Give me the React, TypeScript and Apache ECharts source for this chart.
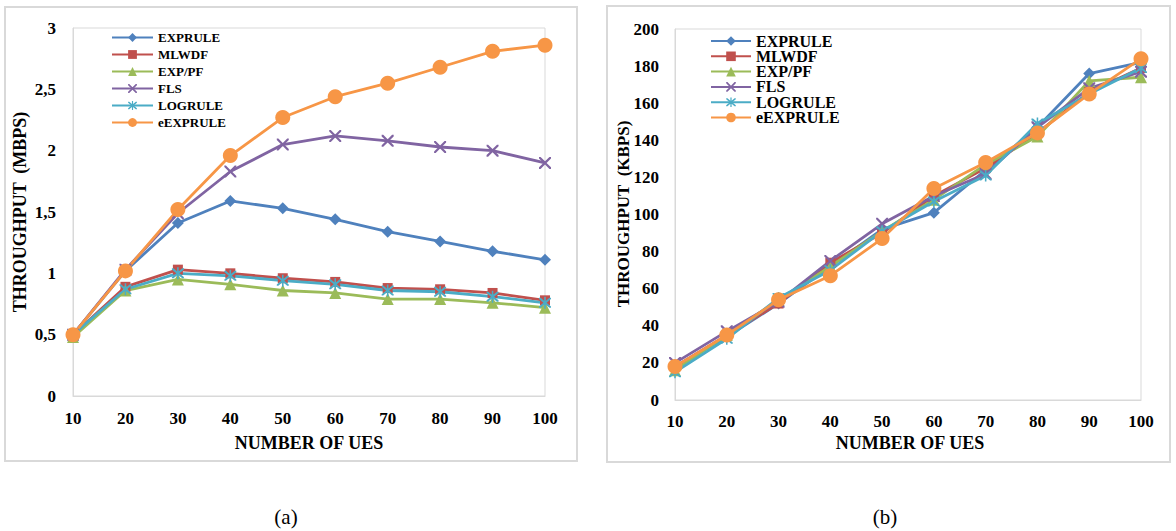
import React, { useEffect, useRef } from "react";
import * as echarts from "echarts";

const categories = ["10", "20", "30", "40", "50", "60", "70", "80", "90", "100"];
const seriesNames = ["EXPRULE", "MLWDF", "EXP/PF", "FLS", "LOGRULE", "eEXPRULE"];

// (a) throughput in Mbps
const aEXPRULE = [0.5, 1.02, 1.41, 1.59, 1.53, 1.44, 1.34, 1.26, 1.18, 1.11];
const aMLWDF = [0.5, 0.89, 1.03, 1.0, 0.96, 0.93, 0.88, 0.87, 0.84, 0.78];
const aEXPPF = [0.48, 0.86, 0.95, 0.91, 0.86, 0.84, 0.79, 0.79, 0.76, 0.72];
const aFLS = [0.5, 1.03, 1.49, 1.83, 2.05, 2.12, 2.08, 2.03, 2.0, 1.9];
const aLOGRULE = [0.5, 0.87, 1.0, 0.98, 0.94, 0.91, 0.86, 0.85, 0.81, 0.76];
const aEEXPRULE = [0.5, 1.02, 1.52, 1.96, 2.27, 2.44, 2.55, 2.68, 2.81, 2.86];

// (b) throughput in kbps
const bEXPRULE = [18, 34, 52, 72, 92, 101, 124, 147, 176, 182];
const bMLWDF = [18, 35, 52, 74, 90, 110, 125, 144, 166, 179];
const bEXPPF = [16, 35, 54, 72, 91, 108, 127, 142, 172, 174];
const bFLS = [20, 37, 53, 75, 95, 110, 122, 147, 168, 177];
const bLOGRULE = [15, 33, 55, 70, 91, 107, 121, 149, 165, 179];
const bEEXPRULE = [18, 35, 54, 67, 87, 114, 128, 144, 165, 184];

const aTicks = { min: 0, max: 3, interval: 0.5 };
const bTicks = { min: 0, max: 200, interval: 20 };

const colors = ["#4F81BD", "#C0504D", "#9BBB59", "#8064A2", "#4BACC6", "#F79646"];

const X_PATH =
  "path://M0,0 L1.3,0 L5,3.7 L8.7,0 L10,0 L10,1.3 L6.3,5 L10,8.7 L10,10 L8.7,10 L5,6.3 L1.3,10 L0,10 L0,8.7 L3.7,5 L0,1.3 Z";
const STAR_PATH =
  "path://M0,0 L1.3,0 L5,3.7 L8.7,0 L10,0 L10,1.3 L6.3,5 L10,8.7 L10,10 L8.7,10 L5,6.3 L1.3,10 L0,10 L0,8.7 L3.7,5 L0,1.3 Z M4.35,-1 L5.65,-1 L5.65,11 L4.35,11 Z";

const symbols = ["diamond", "rect", "triangle", X_PATH, STAR_PATH, "circle"];
const symbolSizes = [12, 10, 12, 12, 12, 15];

const serif = "Liberation Serif";
const borderGray = "#d9d9d9";

function makeSeries(data: number[][], idx: number) {
  return data.map((vals, i) => ({
    name: seriesNames[i],
    type: "line",
    xAxisIndex: idx,
    yAxisIndex: idx,
    data: vals,
    symbol: symbols[i],
    symbolSize: symbolSizes[i],
    showSymbol: true,
    lineStyle: { color: colors[i], width: 2.8 },
    itemStyle: { color: colors[i] },
    emphasis: { disabled: true },
  }));
}

export default function App() {
  const ref = useRef<HTMLDivElement>(null);
  useEffect(() => {
    if (!ref.current) return;
    const chart = echarts.init(ref.current, undefined, { renderer: "svg" });
    const axisLabelBase = {
      fontFamily: serif,
      fontWeight: "bold" as const,
      color: "#000",
    };
    const option = {
      animation: false,
      backgroundColor: "#fff",
      grid: [
        { left: 73, top: 28, width: 472, height: 368, show: true, borderColor: borderGray, borderWidth: 1, backgroundColor: "transparent" },
        { left: 675, top: 29, width: 466, height: 371, show: true, borderColor: borderGray, borderWidth: 1, backgroundColor: "transparent" },
      ],
      xAxis: [0, 1].map((i) => ({
        type: "category",
        gridIndex: i,
        data: categories,
        boundaryGap: false,
        axisLine: { lineStyle: { color: borderGray, width: 1 } },
        axisTick: { show: false },
        axisLabel: { ...axisLabelBase, fontSize: 17, margin: i === 0 ? 14 : 13 },
        splitLine: { show: false },
      })),
      yAxis: [
        {
          type: "value",
          gridIndex: 0,
          min: aTicks.min,
          max: aTicks.max,
          interval: aTicks.interval,
          axisLine: { show: true, lineStyle: { color: borderGray, width: 1 } },
          axisTick: { show: false },
          splitLine: { show: false },
          axisLabel: {
            ...axisLabelBase,
            fontSize: 17,
            margin: 17,
            formatter: (v: number) => String(v).replace(".", ","),
          },
        },
        {
          type: "value",
          gridIndex: 1,
          min: bTicks.min,
          max: bTicks.max,
          interval: bTicks.interval,
          axisLine: { show: true, lineStyle: { color: borderGray, width: 1 } },
          axisTick: { show: false },
          splitLine: { show: false },
          axisLabel: { ...axisLabelBase, fontSize: 17, margin: 16 },
        },
      ],
      legend: [
        {
          orient: "vertical",
          left: 106,
          top: 26,
          itemWidth: 41,
          itemHeight: 11,
          itemGap: 4,
          data: seriesNames,
          selectedMode: false,
          textStyle: { fontFamily: serif, fontWeight: "bold", fontSize: 13, color: "#000", lineHeight: 13 },
        },
        {
          orient: "vertical",
          left: 705,
          top: 28,
          itemWidth: 40,
          itemHeight: 12,
          itemGap: -0.7,
          data: seriesNames,
          selectedMode: false,
          textStyle: { fontFamily: serif, fontWeight: "bold", fontSize: 16, color: "#000", lineHeight: 16 },
        },
      ],
      graphic: [
        { type: "rect", shape: { x: 5, y: 7, width: 572, height: 454 }, style: { fill: "none", stroke: borderGray, lineWidth: 2 }, z: 0, silent: true },
        { type: "rect", shape: { x: 607, y: 6, width: 563, height: 456 }, style: { fill: "none", stroke: borderGray, lineWidth: 2 }, z: 0, silent: true },
        {
          type: "text",
          x: 20,
          y: 212,
          rotation: Math.PI / 2,
          style: { text: "THROUGHPUT  (MBPS)", fontFamily: serif, fontWeight: "bold", fontSize: 18, fill: "#000", align: "center", verticalAlign: "middle" },
        },
        {
          type: "text",
          x: 623,
          y: 214,
          rotation: Math.PI / 2,
          style: { text: "THROUGHPUT  (KBPS)", fontFamily: serif, fontWeight: "bold", fontSize: 17, fill: "#000", align: "center", verticalAlign: "middle" },
        },
        {
          type: "text",
          x: 309,
          y: 443,
          style: { text: "NUMBER OF UES", fontFamily: serif, fontWeight: "bold", fontSize: 18, fill: "#000", align: "center", verticalAlign: "middle" },
        },
        {
          type: "text",
          x: 910,
          y: 443,
          style: { text: "NUMBER OF UES", fontFamily: serif, fontWeight: "bold", fontSize: 18, fill: "#000", align: "center", verticalAlign: "middle" },
        },
        {
          type: "text",
          x: 286,
          y: 517,
          style: { text: "(a)", fontFamily: serif, fontSize: 21, fill: "#000", align: "center", verticalAlign: "middle" },
        },
        {
          type: "text",
          x: 885,
          y: 517,
          style: { text: "(b)", fontFamily: serif, fontSize: 21, fill: "#000", align: "center", verticalAlign: "middle" },
        },
      ],
      series: [
        ...makeSeries([aEXPRULE, aMLWDF, aEXPPF, aFLS, aLOGRULE, aEEXPRULE], 0),
        ...makeSeries([bEXPRULE, bMLWDF, bEXPPF, bFLS, bLOGRULE, bEEXPRULE], 1),
      ],
    };
    chart.setOption(option as any);
    return () => chart.dispose();
  }, []);
  return (
    <div
      ref={ref}
      style={{ position: "fixed", left: 0, top: 0, width: 1176, height: 531, background: "#fff" }}
    />
  );
}
